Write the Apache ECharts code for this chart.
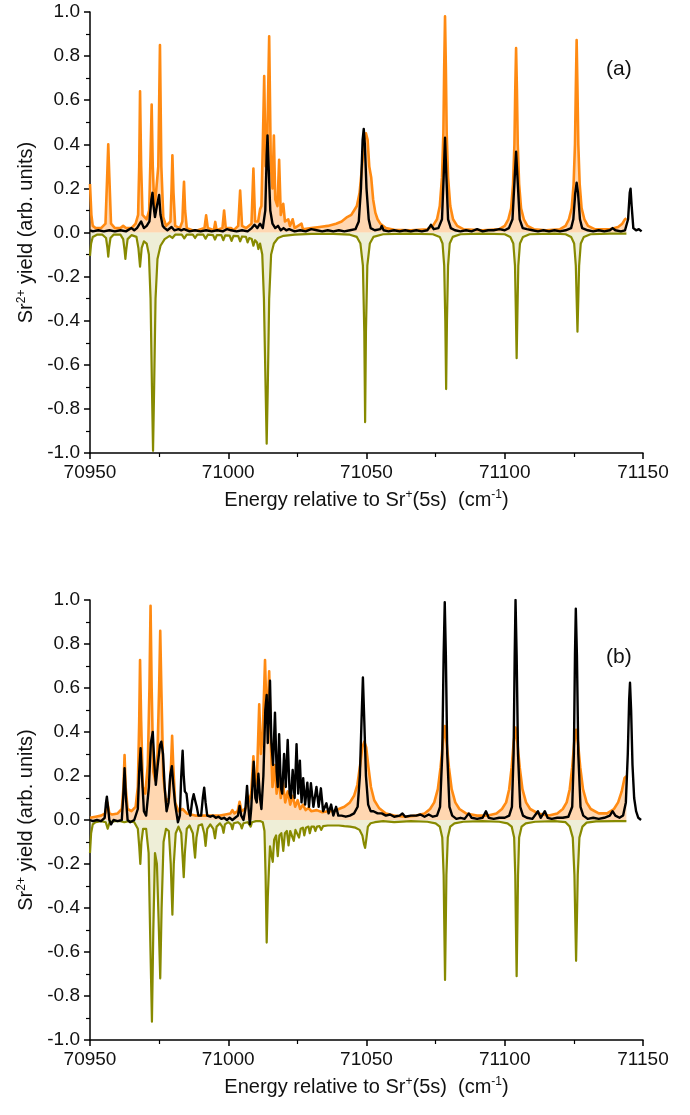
<!DOCTYPE html>
<html>
<head>
<meta charset="utf-8">
<script src="https://cdn.jsdelivr.net/npm/echarts@6/dist/echarts.min.js"></script>
<style>
  html, body { margin: 0; padding: 0; background: #fff; }
  #chart { width: 690px; height: 1115px; }
</style>
</head>
<body>
<div id="chart"></div>
<script>
// x: energy (cm-1), y: Sr2+ yield
var panelLabels = ['(a)', '(b)'];

var orangeA = [
  [70950,0.22],[70950.5,0.08],[70951,0.03],[70952,0.02],[70954,0.02],[70955.6,0.04],[70956.2,0.25],[70956.6,0.40],[70957.0,0.25],[70957.6,0.04],
  [70959,0.02],[70961,0.02],[70962,0.03],[70963,0.02],[70965,0.02],[70966.5,0.04],[70967.4,0.08],[70967.8,0.3],[70968.1,0.64],[70968.5,0.3],
  [70969,0.08],[70970.5,0.06],[70971.4,0.1],[70971.9,0.35],[70972.3,0.58],[70972.7,0.3],[70973.3,0.1],[70974.0,0.1],[70974.7,0.3],[70975.3,0.85],
  [70975.8,0.3],[70976.5,0.07],[70977.5,0.03],[70979.1,0.05],[70979.5,0.2],[70979.8,0.35],[70980.2,0.18],[70980.8,0.03],[70982.5,0.02],[70983.4,0.05],
  [70983.8,0.18],[70984.0,0.23],[70984.4,0.1],[70985,0.02],[70987,0.01],[70989,0.01],[70991.4,0.02],[70992.0,0.078],[70992.6,0.02],[70994.8,0.01],
  [70995.3,0.048],[70995.8,0.01],[70997.9,0.02],[70998.5,0.10],[70999.1,0.02],[71001,0.02],[71002,0.01],[71003.6,0.03],[71004.3,0.19],[71005.0,0.03],
  [71006.5,0.02],[71008.4,0.04],[71009.1,0.29],[71009.7,0.05],[71010.8,0.05],[71011.5,0.105],[71012.0,0.12],[71012.5,0.4],[71013.0,0.71],[71013.5,0.3],
  [71014.0,0.35],[71014.8,0.89],[71015.4,0.3],[71016.0,0.2],[71016.5,0.44],[71017.0,0.15],[71017.8,0.12],[71018.4,0.33],[71019.0,0.08],[71019.9,0.13],
  [71020.5,0.05],[71021.7,0.06],[71022.3,0.03],[71023.3,0.06],[71024,0.02],[71026.5,0.04],[71027,0.015],[71030,0.02],[71033,0.025],[71036,0.03],
  [71039,0.04],[71041,0.05],[71043,0.07],[71044.5,0.08],[71045.5,0.10],[71046.5,0.12],[71047.5,0.18],[71048.4,0.3],[71049.2,0.42],[71049.8,0.45],
  [71050.4,0.42],[71051,0.3],[71051.7,0.25],[71052.4,0.15],[71053.2,0.09],[71054,0.06],[71055,0.04],[71057,0.02],[71060,0.012],[71066,0.01],
  [71072,0.015],[71074,0.03],[71075.5,0.06],[71076.5,0.12],[71077.3,0.25],[71077.8,0.45],[71078.1,0.75],[71078.4,0.98],[71078.7,0.75],[71079.0,0.45],
  [71079.5,0.25],[71080.3,0.12],[71081.3,0.06],[71082.8,0.03],[71085,0.015],[71092,0.01],
  [71098,0.015],[71100,0.03],[71101.3,0.06],[71102.3,0.11],[71103.0,0.22],[71103.5,0.4],[71103.8,0.65],[71104.1,0.836],[71104.4,0.65],[71104.7,0.4],
  [71105.2,0.22],[71105.9,0.11],[71106.9,0.06],[71108.2,0.03],[71110.5,0.015],[71115,0.01],
  [71120,0.015],[71122,0.03],[71123.2,0.06],[71124.2,0.11],[71124.9,0.22],[71125.4,0.4],[71125.7,0.65],[71126.0,0.873],[71126.3,0.65],[71126.6,0.4],
  [71127.1,0.22],[71127.8,0.11],[71128.8,0.06],[71130.1,0.03],[71132.5,0.015],[71138,0.015],[71141,0.025],[71142.5,0.04],[71143.5,0.06],[71144,0.065]
];

var blackA = [
  [70950,0.01],[70951,0.005],[70953,0.01],[70955,0.005],[70957,0.01],[70959,0.005],[70961,0.01],[70963,0.005],[70965,0.02],[70966,0.01],
  [70967,0.02],[70968.5,0.05],[70969.5,0.02],[70970.5,0.03],[70971.5,0.05],[70972.2,0.15],[70972.6,0.18],[70973.0,0.12],[70973.5,0.07],[70974.2,0.12],
  [70975.0,0.17],[70975.5,0.08],[70976.3,0.03],[70977,0.02],[70978,0.01],[70979.5,0.025],[70980.5,0.01],[70982,0.015],[70983,0.01],[70984,0.015],
  [70986,0.005],[70988,0.01],[70990,0.005],[70992,0.01],[70994,0.005],[70996,0.01],[70998,0.005],[70999.5,0.015],[71001,0.01],[71003,0.005],
  [71005,0.01],[71007,0.005],[71008.5,0.02],[71009.5,0.035],[71010.5,0.02],[71011.5,0.04],[71012.5,0.02],[71013.4,0.1],[71013.9,0.35],[71014.2,0.44],
  [71014.6,0.3],[71015.2,0.1],[71016,0.04],[71017,0.02],[71018,0.03],[71019,0.01],[71020,0.02],[71021,0.01],[71022,0.015],[71024,0.005],
  [71026,0.01],[71028,0.005],[71030,0.015],[71032,0.01],[71034,0.005],[71036,0.01],[71038,0.005],[71040,0.01],[71042,0.005],[71044,0.01],
  [71046,0.015],[71047.2,0.05],[71048.0,0.2],[71048.6,0.42],[71049.0,0.47],[71049.4,0.4],[71050.0,0.2],[71050.8,0.06],[71051.5,0.02],[71053,0.01],
  [71055,0.015],[71055.5,0.03],[71056.2,0.01],[71058,0.005],[71060,0.01],[71062,0.005],[71064,0.01],[71066,0.005],[71068,0.01],[71070,0.005],
  [71072,0.01],[71073.3,0.035],[71074.3,0.015],[71076,0.02],[71077.3,0.06],[71077.9,0.25],[71078.4,0.43],[71078.9,0.25],[71079.5,0.06],[71080.5,0.02],
  [71082,0.01],[71084,0.005],[71086,0.01],[71088,0.005],[71090,0.015],[71092,0.005],[71094,0.01],[71096,0.01],[71098,0.015],[71100,0.01],
  [71101.5,0.02],[71102.8,0.06],[71103.6,0.25],[71104.1,0.366],[71104.6,0.25],[71105.4,0.06],[71106.5,0.02],[71108,0.015],[71110,0.01],[71112,0.005],
  [71114,0.01],[71116,0.005],[71118,0.01],[71120,0.005],[71122,0.01],[71124,0.02],[71124.8,0.06],[71125.5,0.18],[71126.0,0.226],[71126.5,0.18],
  [71127.2,0.06],[71128,0.02],[71130,0.01],[71132,0.005],[71134,0.01],[71136,0.005],[71138,0.01],[71139,0.02],[71140,0.01],[71142,0.005],
  [71143.5,0.01],[71144.6,0.06],[71145.2,0.18],[71145.5,0.199],[71145.9,0.12],[71146.5,0.02],[71147.5,0.01],[71148.5,0.015],[71149.5,0.005]
];

var oliveA = [
  [70950,-0.106],[70950.4,-0.05],[70951,-0.02],[70952.5,-0.01],[70954.5,-0.01],[70955.8,-0.025],[70956.3,-0.07],[70956.6,-0.109],[70956.9,-0.07],[70957.4,-0.025],
  [70958.5,-0.01],[70961,-0.01],[70962.0,-0.03],[70962.5,-0.08],[70962.8,-0.12],[70963.1,-0.08],[70963.6,-0.03],[70965,-0.012],[70966.8,-0.02],[70967.5,-0.07],
  [70968.1,-0.155],[70968.7,-0.07],[70969.5,-0.04],[70970.5,-0.05],[70971.3,-0.1],[70971.9,-0.3],[70972.4,-0.7],[70972.8,-0.99],[70973.2,-0.7],[70973.7,-0.3],
  [70974.4,-0.12],[70975.5,-0.06],[70977,-0.03],[70978.8,-0.015],[70979.8,-0.025],[70980.8,-0.01],[70983.2,-0.01],[70984.1,-0.027],[70985,-0.01],[70987.2,-0.01],
  [70988,-0.025],[70988.8,-0.01],[70991,-0.01],[70991.8,-0.028],[70992.6,-0.01],[70994.5,-0.012],[70995.2,-0.032],[70995.9,-0.012],[70997.5,-0.012],[70998.2,-0.035],
  [70998.9,-0.013],[71000.5,-0.014],[71001.2,-0.038],[71001.9,-0.015],[71003.6,-0.016],[71004.3,-0.04],[71005,-0.018],[71006.4,-0.02],[71007,-0.045],[71007.6,-0.025],
  [71008.5,-0.03],[71009.1,-0.06],[71009.7,-0.035],[71010.4,-0.045],[71010.9,-0.075],[71011.5,-0.05],[71012.3,-0.1],[71012.9,-0.3],[71013.5,-0.7],[71013.9,-0.958],
  [71014.3,-0.7],[71014.8,-0.3],[71015.5,-0.1],[71016.5,-0.05],[71018,-0.025],[71020,-0.015],[71024,-0.01],[71030,-0.006],[71038,-0.006],[71044,-0.01],
  [71046.5,-0.02],[71047.8,-0.05],[71048.7,-0.15],[71049.2,-0.45],[71049.5,-0.86],[71049.8,-0.45],[71050.3,-0.15],[71051.2,-0.05],[71052.5,-0.02],[71056,-0.008],
  [71065,-0.005],[71074,-0.008],[71076.5,-0.02],[71077.5,-0.05],[71078.1,-0.15],[71078.5,-0.4],[71078.8,-0.71],[71079.1,-0.4],[71079.5,-0.15],[71080.1,-0.05],
  [71081.2,-0.02],[71084,-0.008],[71092,-0.005],[71100,-0.008],[71102,-0.02],[71103.1,-0.05],[71103.7,-0.15],[71104.0,-0.35],[71104.3,-0.57],[71104.6,-0.35],
  [71104.9,-0.15],[71105.5,-0.05],[71106.6,-0.02],[71109,-0.008],[71118,-0.005],[71122,-0.008],[71124,-0.02],[71125.1,-0.05],[71125.7,-0.15],[71126.0,-0.3],
  [71126.3,-0.45],[71126.6,-0.3],[71126.9,-0.15],[71127.5,-0.05],[71128.6,-0.02],[71131,-0.008],[71138,-0.005],[71144,-0.005]
];

var orangeB = [
  [70950,0.01],[70952,0.015],[70954,0.02],[70955.5,0.03],[70956.3,0.08],[70957,0.03],[70958,0.025],[70960,0.03],[70961.5,0.05],[70962.1,0.15],
  [70962.5,0.295],[70962.9,0.15],[70963.6,0.05],[70965,0.04],[70966.5,0.06],[70967.3,0.15],[70967.8,0.45],[70968.1,0.727],[70968.5,0.45],[70969.1,0.15],
  [70970,0.12],[70970.9,0.25],[70971.5,0.6],[70971.9,0.974],[70972.3,0.6],[70972.9,0.22],[70973.6,0.18],[70974.4,0.3],[70975.0,0.6],[70975.4,0.86],
  [70975.8,0.6],[70976.5,0.2],[70977.5,0.08],[70978.6,0.1],[70979.3,0.25],[70979.7,0.383],[70980.1,0.25],[70980.8,0.08],[70982,0.04],[70983.5,0.05],
  [70985,0.03],[70988,0.02],[70991,0.02],[70994,0.02],[70997,0.02],[70999,0.025],[71000.8,0.03],[71001.5,0.045],[71002.2,0.03],[71003.4,0.04],
  [71004.1,0.083],[71004.8,0.04],[71006,0.05],[71007,0.07],[71008.3,0.12],[71009.1,0.29],[71009.7,0.15],[71010.4,0.2],[71011.2,0.526],[71011.8,0.3],
  [71012.5,0.4],[71013.3,0.727],[71013.9,0.45],[71014.3,0.5],[71014.8,0.676],[71015.4,0.35],[71016,0.15],[71016.8,0.25],[71017.5,0.12],[71018.2,0.2],
  [71019,0.1],[71019.8,0.17],[71020.6,0.08],[71021.5,0.13],[71022.4,0.07],[71023.3,0.11],[71024.2,0.06],[71025.1,0.09],[71026,0.05],[71027,0.07],
  [71028,0.045],[71029,0.055],[71030,0.04],[71032,0.045],[71034,0.035],[71036,0.04],[71038,0.04],[71040,0.05],[71042,0.06],[71044,0.08],
  [71045.5,0.11],[71046.7,0.16],[71047.7,0.25],[71048.5,0.33],[71049.2,0.356],[71049.9,0.33],[71050.7,0.24],[71051.6,0.15],[71052.8,0.09],[71054.5,0.055],
  [71057,0.03],[71060,0.02],[71064,0.015],[71068,0.02],[71071,0.03],[71073,0.05],[71074.5,0.08],[71075.8,0.14],[71076.8,0.24],[71077.6,0.35],
  [71078.3,0.427],[71079,0.35],[71079.8,0.24],[71080.8,0.14],[71082.1,0.08],[71083.6,0.05],[71086,0.03],[71090,0.02],[71094,0.02],[71097,0.03],
  [71099,0.05],[71100.5,0.08],[71101.6,0.14],[71102.5,0.24],[71103.2,0.35],[71103.9,0.42],[71104.6,0.35],[71105.4,0.24],[71106.4,0.14],[71107.7,0.08],
  [71109.2,0.05],[71112,0.03],[71116,0.02],[71119,0.03],[71121,0.05],[71122.4,0.08],[71123.5,0.14],[71124.4,0.24],[71125.1,0.35],[71125.8,0.41],
  [71126.5,0.35],[71127.3,0.24],[71128.3,0.14],[71129.6,0.08],[71131.1,0.05],[71134,0.03],[71137,0.03],[71139.5,0.05],[71141,0.08],[71142.3,0.13],
  [71143.3,0.19],[71144,0.2]
];

var blackB = [
  [70950,0.0],[70951,-0.005],[70952.5,0.0],[70954,-0.005],[70955.3,0.01],[70955.8,0.08],[70956.1,0.106],[70956.5,0.06],[70957,0.0],[70957.6,-0.02],
  [70958.5,0.0],[70960,-0.005],[70961.5,0.0],[70962.0,0.1],[70962.5,0.235],[70963.0,0.1],[70963.6,0.0],[70964.5,-0.01],[70966,0.0],[70967.3,0.05],
  [70967.8,0.22],[70968.3,0.326],[70968.8,0.2],[70969.5,0.04],[70970.3,0.02],[70971.3,0.15],[70972,0.35],[70972.7,0.40],[70973.3,0.25],[70973.8,0.16],
  [70974.5,0.25],[70975.3,0.34],[70975.8,0.356],[70976.4,0.3],[70977,0.15],[70977.7,0.04],[70978.4,0.08],[70979,0.2],[70979.6,0.245],[70980.2,0.15],
  [70980.8,0.07],[70981.3,0.03],[70981.8,-0.01],[70982.5,0.02],[70983.0,0.2],[70983.5,0.315],[70983.9,0.2],[70984.3,0.13],[70984.9,0.12],[70985.5,0.05],
  [70986.3,0.02],[70987.0,0.09],[70987.5,0.117],[70988,0.09],[70988.6,0.06],[70989.2,0.02],[70990.2,0.02],[70990.8,0.1],[70991.3,0.147],[70991.8,0.08],
  [70992.4,0.02],[70993.5,0.015],[70994.5,0.02],[70995.5,0.01],[70996.5,0.015],[70997.5,0.005],[70998.5,0.01],[70999.5,0.0],[71000.5,0.01],[71001.5,0.0],
  [71002.5,0.01],[71003.5,0.02],[71004.1,0.064],[71004.7,0.02],[71005.5,0.0],[71006.2,0.05],[71006.8,0.155],[71007.3,0.06],[71007.8,-0.02],[71008.3,0.05],
  [71009.2,0.265],[71009.8,0.1],[71010.3,0.08],[71010.9,0.21],[71011.5,0.1],[71012.0,0.05],[71012.7,0.2],[71013.4,0.5],[71013.9,0.568],[71014.3,0.35],
  [71014.6,0.45],[71015.1,0.633],[71015.6,0.35],[71016.2,0.25],[71016.9,0.488],[71017.5,0.22],[71017.9,0.15],[71018.4,0.39],[71019.0,0.15],[71019.5,0.12],
  [71020.2,0.30],[71020.8,0.15],[71021.5,0.364],[71022.2,0.12],[71022.7,0.1],[71023.3,0.227],[71024.0,0.1],[71024.7,0.345],[71025.3,0.12],[71025.9,0.27],
  [71026.5,0.08],[71027.1,0.19],[71027.8,0.07],[71028.6,0.17],[71029.2,0.06],[71029.9,0.167],[71030.8,0.06],[71031.9,0.15],[71032.7,0.06],[71033.5,0.144],
  [71034.3,0.04],[71035.5,0.076],[71036.3,0.03],[71037.2,0.07],[71038,0.02],[71039,0.06],[71039.8,0.02],[71041,0.02],[71042.5,0.015],[71044,0.02],
  [71045.5,0.03],[71046.8,0.06],[71047.6,0.2],[71048.2,0.45],[71048.7,0.648],[71049.2,0.45],[71049.8,0.2],[71050.6,0.07],[71051.5,0.04],[71052.5,0.04],
  [71054,0.03],[71055.5,0.03],[71057,0.02],[71058.5,0.025],[71060,0.015],[71062,0.02],[71063,0.03],[71064,0.015],[71066,0.02],[71068,0.02],
  [71069.5,0.025],[71071,0.015],[71072.5,0.025],[71074,0.015],[71075.5,0.02],[71076.6,0.06],[71077.4,0.3],[71077.9,0.75],[71078.3,0.99],[71078.7,0.75],
  [71079.2,0.3],[71080,0.06],[71081,0.02],[71082.5,0.005],[71084,0.01],[71085.5,0.005],[71087,0.03],[71088,0.01],[71090,0.005],[71092,0.01],
  [71093.2,0.04],[71094.2,0.01],[71096,0.005],[71098,0.01],[71100,0.01],[71101.6,0.02],[71102.6,0.06],[71103.2,0.3],[71103.6,0.75],[71103.9,1.0],
  [71104.3,0.75],[71104.8,0.3],[71105.6,0.06],[71106.6,0.02],[71108,0.01],[71110,0.005],[71112,0.04],[71113,0.01],[71114.5,0.04],[71115.5,0.01],
  [71117,0.005],[71119,0.01],[71121,0.01],[71123,0.015],[71124.4,0.06],[71125.0,0.3],[71125.4,0.75],[71125.7,0.96],[71126.1,0.75],[71126.6,0.3],
  [71127.4,0.06],[71128.4,0.02],[71130,0.005],[71132,0.01],[71134,0.005],[71136,0.01],[71138,0.02],[71139,0.04],[71140,0.02],[71141.5,0.01],
  [71142.8,0.02],[71143.8,0.08],[71144.5,0.3],[71145.0,0.55],[71145.3,0.624],[71145.7,0.5],[71146.2,0.25],[71146.8,0.1],[71147.5,0.04],[71148.3,0.01],
  [71149.3,0.0]
];

var oliveB = [
  [70950,-0.15],[70950.4,-0.06],[70951,-0.02],[70952,-0.01],[70954,-0.005],[70955.7,-0.01],[70956.4,-0.04],[70957.1,-0.01],[70959,-0.005],[70961,-0.005],
  [70962.4,-0.01],[70964,-0.005],[70966,-0.01],[70967.3,-0.04],[70967.8,-0.12],[70968.2,-0.20],[70968.6,-0.1],[70969.2,-0.04],[70970.3,-0.04],[70971.2,-0.15],
  [70971.8,-0.55],[70972.4,-0.917],[70972.9,-0.5],[70973.5,-0.15],[70974.2,-0.2],[70974.8,-0.45],[70975.4,-0.72],[70975.9,-0.4],[70976.6,-0.1],[70977.5,-0.04],
  [70978.5,-0.05],[70979.2,-0.2],[70979.8,-0.43],[70980.3,-0.2],[70981,-0.06],[70982,-0.03],[70983,-0.06],[70983.5,-0.17],[70983.9,-0.26],[70984.3,-0.15],
  [70985,-0.04],[70986,-0.025],[70987.2,-0.06],[70987.6,-0.12],[70988,-0.171],[70988.5,-0.08],[70989.3,-0.025],[70990.5,-0.02],[70991.3,-0.06],[70991.8,-0.118],
  [70992.4,-0.04],[70993.5,-0.02],[70994.6,-0.04],[70995.2,-0.083],[70995.8,-0.03],[70997,-0.015],[70997.8,-0.03],[70998.3,-0.058],[70998.8,-0.02],[71000,-0.01],
  [71001,-0.02],[71001.5,-0.042],[71002,-0.015],[71003.5,-0.01],[71004.4,-0.02],[71004.9,-0.038],[71005.5,-0.015],[71007,-0.01],[71007.6,-0.02],[71008.1,-0.03],
  [71008.6,-0.01],[71010,-0.005],[71011.5,-0.005],[71012.5,-0.01],[71013.1,-0.05],[71013.5,-0.25],[71013.9,-0.557],[71014.3,-0.35],[71014.7,-0.227],[71015.1,-0.12],
  [71015.5,-0.15],[71016.1,-0.19],[71016.6,-0.09],[71017.3,-0.07],[71017.9,-0.164],[71018.5,-0.07],[71019.2,-0.06],[71019.9,-0.14],[71020.5,-0.06],[71021.2,-0.05],
  [71021.8,-0.115],[71022.4,-0.05],[71023.1,-0.045],[71023.7,-0.095],[71024.3,-0.045],[71025.0,-0.04],[71025.6,-0.08],[71026.2,-0.04],[71027,-0.035],[71027.5,-0.07],
  [71028.1,-0.035],[71029,-0.03],[71029.5,-0.06],[71030.1,-0.03],[71031,-0.03],[71031.5,-0.05],[71032.1,-0.03],[71033,-0.028],[71033.6,-0.045],[71034.3,-0.028],
  [71036,-0.025],[71038,-0.025],[71040,-0.025],[71042,-0.028],[71044,-0.03],[71046,-0.035],[71047.5,-0.045],[71048.5,-0.07],[71049.1,-0.11],[71049.5,-0.127],
  [71049.9,-0.09],[71050.5,-0.03],[71051.5,-0.015],[71053,-0.01],[71056,-0.005],[71060,-0.01],[71066,-0.005],[71072,-0.008],[71075,-0.015],[71076.5,-0.03],
  [71077.4,-0.08],[71077.9,-0.25],[71078.1,-0.45],[71078.4,-0.727],[71078.7,-0.45],[71078.9,-0.25],[71079.4,-0.08],[71080.3,-0.03],[71081.8,-0.015],[71085,-0.008],
  [71092,-0.005],[71098,-0.008],[71101,-0.015],[71102.5,-0.03],[71103.4,-0.08],[71103.8,-0.25],[71104.0,-0.45],[71104.3,-0.71],[71104.6,-0.45],[71104.8,-0.25],
  [71105.2,-0.08],[71106.1,-0.03],[71107.6,-0.015],[71111,-0.008],[71118,-0.005],[71122,-0.01],[71123.5,-0.03],[71124.6,-0.08],[71125.2,-0.25],[71125.5,-0.45],
  [71125.8,-0.64],[71126.1,-0.45],[71126.4,-0.25],[71127.0,-0.08],[71128.1,-0.03],[71129.6,-0.012],[71133,-0.006],[71140,-0.005],[71144,-0.005]
];

var chart = echarts.init(document.getElementById('chart'), null, { renderer: 'canvas', width: 690, height: 1115 });

var FONT = 'Liberation Sans, Arial, sans-serif';
var gridTops = [12, 600];

function xAxisFor(i) {
  return {
    type: 'value', gridIndex: i, min: 70950, max: 71150, interval: 50,
    name: 'Energy relative to Sr{s|+}(5s)  (cm{s|-1})',
    nameLocation: 'middle', nameGap: 36,
    nameTextStyle: { color: '#111', fontSize: 20, fontFamily: FONT,
      rich: { s: { fontSize: 12, fontFamily: FONT, color: '#111', padding: [0, 0, 10, 0] } } },
    axisLine: { onZero: false, lineStyle: { color: '#000', width: 1.5 } },
    axisTick: { show: true, inside: false, length: 6, lineStyle: { color: '#000', width: 1.5 } },
    minorTick: { show: true, splitNumber: 2, length: 4, lineStyle: { color: '#000', width: 1.2 } },
    axisLabel: { color: '#111', fontSize: 19, fontFamily: FONT, margin: 10,
      formatter: function (v) { return String(v); } },
    splitLine: { show: false }
  };
}

function yAxisFor(i) {
  return {
    type: 'value', gridIndex: i, min: -1, max: 1, interval: 0.2,
    name: '{n|Sr}{s|2+}{n| yield (arb. units)}',
    nameLocation: 'middle', nameGap: 47, nameRotate: 90,
    nameTextStyle: { color: '#111', fontSize: 20, fontFamily: FONT,
      rich: {
        n: { fontSize: 20, fontFamily: FONT, color: '#111' },
        s: { fontSize: 12, fontFamily: FONT, color: '#111', padding: [0, 0, 10, 0] }
      } },
    axisLine: { onZero: false, lineStyle: { color: '#000', width: 1.5 } },
    axisTick: { show: true, inside: false, length: 6, lineStyle: { color: '#000', width: 1.5 } },
    minorTick: { show: true, splitNumber: 2, length: 4, lineStyle: { color: '#000', width: 1.2 } },
    axisLabel: { color: '#111', fontSize: 19, fontFamily: FONT, margin: 10,
      formatter: function (v) { return v.toFixed(1); } },
    splitLine: { show: false }
  };
}

function lineSeries(data, i, color, width, fill, z) {
  var s = {
    type: 'line', data: data, xAxisIndex: i, yAxisIndex: i,
    showSymbol: false, symbol: 'none', smooth: false, z: z,
    lineStyle: { color: color, width: width, join: 'round' },
    silent: true
  };
  if (fill) s.areaStyle = { color: fill, origin: 0, opacity: 1 };
  return s;
}

var series = [
  lineSeries(orangeA, 0, '#ff8a12', 2.6, 'rgba(255,160,70,0.42)', 2),
  lineSeries(oliveA, 0, '#878a00', 2.2, 'rgba(210,210,150,0.38)', 3),
  lineSeries(blackA, 0, '#000000', 2.4, null, 4),
  lineSeries(orangeB, 1, '#ff8a12', 2.6, 'rgba(255,160,70,0.42)', 2),
  lineSeries(oliveB, 1, '#878a00', 2.2, 'rgba(210,210,150,0.38)', 3),
  lineSeries(blackB, 1, '#000000', 2.4, null, 4)
];

chart.setOption({
  animation: false,
  backgroundColor: '#fff',
  grid: [
    { left: 90, right: 47, top: gridTops[0], height: 441 },
    { left: 90, right: 47, top: gridTops[1], height: 440 }
  ],
  xAxis: [xAxisFor(0), xAxisFor(1)],
  yAxis: [yAxisFor(0), yAxisFor(1)],
  graphic: panelLabels.map(function (t, i) {
    return { type: 'text', left: 606, top: gridTops[i] + 47,
      style: { text: t, fill: '#111', font: '21px ' + FONT } };
  }),
  series: series
});
</script>
</body>
</html>
